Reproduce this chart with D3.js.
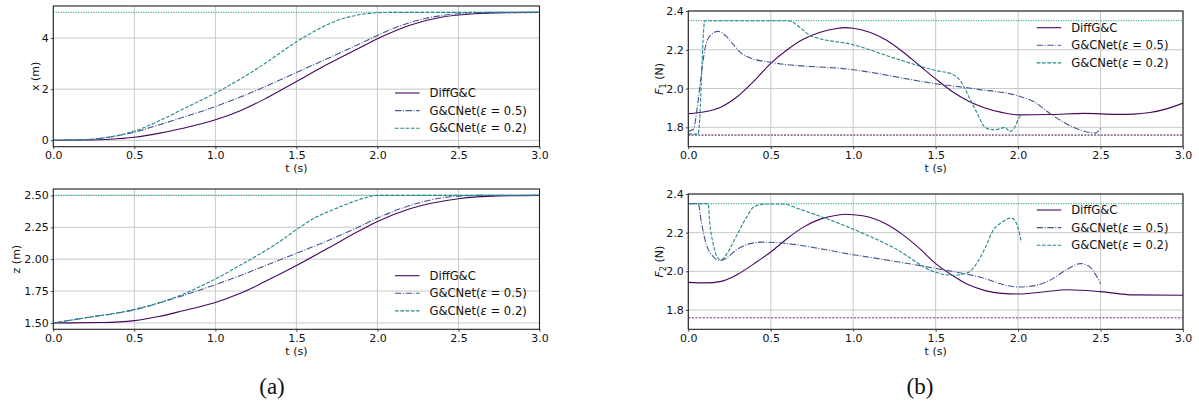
<!DOCTYPE html>
<html>
<head>
<meta charset="utf-8">
<script src="https://cdn.jsdelivr.net/npm/d3@7"></script>
<style>
  body { margin: 0; background: #fff; }
  svg text { font-family: "DejaVu Sans", sans-serif; fill: #111; }
</style>
</head>
<body>
<div id="chart"></div>
<script>
// time axis
const tTicks = [0, 0.5, 1.0, 1.5, 2.0, 2.5, 3.0];

// (a) top: x position
const xTicks = [0, 2, 4];
const xTarget = 5;
const tXDiff = [0, 0.2, 0.35, 0.5, 0.65, 0.8, 1.0, 1.15, 1.3, 1.5, 1.7, 1.9, 2.0, 2.2, 2.4, 2.6, 2.8, 3.0];
const xDiff = [0, 0.01, 0.04, 0.12, 0.27, 0.47, 0.8, 1.15, 1.6, 2.3, 3.0, 3.65, 3.97, 4.5, 4.82, 4.95, 4.99, 5.0];
const tXNet5 = [0, 0.2, 0.35, 0.5, 0.65, 0.8, 1.0, 1.15, 1.3, 1.5, 1.7, 1.9, 2.0, 2.1, 2.2, 2.3, 2.4, 2.5, 2.6, 2.7, 3.0];
const xNet5 = [0, 0.03, 0.13, 0.32, 0.6, 0.9, 1.32, 1.68, 2.08, 2.65, 3.22, 3.8, 4.1, 4.38, 4.6, 4.77, 4.88, 4.95, 4.99, 5.0, 5.0];
const tXNet2 = [0, 0.2, 0.35, 0.5, 0.65, 0.8, 1.0, 1.15, 1.3, 1.4, 1.5, 1.6, 1.7, 1.8, 1.9, 2.0, 2.1, 3.0];
const xNet2 = [0, 0.03, 0.13, 0.36, 0.75, 1.22, 1.85, 2.38, 2.98, 3.42, 3.85, 4.22, 4.55, 4.78, 4.92, 4.99, 5.0, 5.0];

// (a) bottom: z position
const zTicks = [1.5, 1.75, 2.0, 2.25, 2.5];
const zTarget = 2.5;
const tZDiff = [0, 0.3, 0.5, 0.65, 0.8, 1.0, 1.15, 1.3, 1.5, 1.7, 1.9, 2.0, 2.2, 2.5, 2.75, 3.0];
const zDiff = [1.5, 1.503, 1.518, 1.55, 1.595, 1.66, 1.73, 1.82, 1.95, 2.09, 2.23, 2.295, 2.395, 2.474, 2.496, 2.5];
const tZNet5 = [0, 0.2, 0.5, 0.75, 1.0, 1.15, 1.3, 1.5, 1.7, 1.9, 2.0, 2.2, 2.35, 2.5, 2.65, 3.0];
const zNet5 = [1.5, 1.54, 1.603, 1.694, 1.8, 1.87, 1.945, 2.046, 2.148, 2.262, 2.322, 2.42, 2.47, 2.494, 2.5, 2.5];
const tZNet2 = [0, 0.2, 0.5, 0.75, 1.0, 1.15, 1.3, 1.4, 1.5, 1.6, 1.75, 1.85, 1.94, 2.0, 3.0];
const zNet2 = [1.5, 1.54, 1.606, 1.7, 1.845, 1.95, 2.06, 2.14, 2.232, 2.315, 2.4, 2.45, 2.487, 2.5, 2.5];

// (b) thrusts
const fTicks = [1.8, 2.0, 2.2, 2.4];
const fMax = 2.35;
const fMin = 1.76;
const tF1Diff = [0, 0.1, 0.2, 0.3, 0.4, 0.5, 0.6, 0.7, 0.8, 0.9, 0.95, 1.0, 1.1, 1.2, 1.3, 1.4, 1.5, 1.6, 1.7, 1.8, 1.9, 2.0, 2.2, 2.4, 2.6, 2.7, 2.8, 2.9, 3.0];
const f1Diff = [1.87, 1.88, 1.905, 1.96, 2.04, 2.13, 2.2, 2.255, 2.29, 2.31, 2.314, 2.311, 2.29, 2.25, 2.19, 2.12, 2.05, 1.985, 1.935, 1.9, 1.877, 1.864, 1.866, 1.872, 1.867, 1.868, 1.876, 1.895, 1.925];
const tF1Net5 = [0, 0.03, 0.06, 0.08, 0.1, 0.13, 0.18, 0.23, 0.27, 0.31, 0.37, 0.5, 1.0, 1.5, 1.75, 2.0, 2.1, 2.2, 2.3, 2.4, 2.47, 2.5];
const f1Net5 = [1.78, 1.79, 1.94, 2.08, 2.2, 2.27, 2.295, 2.27, 2.23, 2.19, 2.16, 2.135, 2.097, 2.025, 1.997, 1.962, 1.93, 1.867, 1.815, 1.78, 1.77, 1.795];
const tF1Net2 = [0, 0.06, 0.1, 0.6, 0.75, 1.0, 1.25, 1.5, 1.6, 1.65, 1.7, 1.75, 1.8, 1.85, 1.9, 1.92, 1.95, 1.98, 2.0, 2.02];
const f1Net2 = [1.765, 1.765, 2.35, 2.35, 2.27, 2.226, 2.157, 2.093, 2.074, 2.04, 1.96, 1.876, 1.8, 1.787, 1.795, 1.8, 1.778, 1.8, 1.84, 1.867];

const tF2Diff = [0, 0.1, 0.2, 0.3, 0.4, 0.5, 0.6, 0.7, 0.8, 0.9, 0.95, 1.0, 1.1, 1.2, 1.3, 1.4, 1.5, 1.6, 1.7, 1.8, 1.9, 2.0, 2.15, 2.3, 2.5, 2.7, 3.0];
const f2Diff = [1.943, 1.94, 1.948, 1.985, 2.04, 2.1, 2.17, 2.23, 2.27, 2.29, 2.295, 2.293, 2.28, 2.245, 2.19, 2.12, 2.04, 1.98, 1.93, 1.9, 1.886, 1.883, 1.893, 1.905, 1.895, 1.878, 1.876];
const tF2Net5 = [0, 0.06, 0.08, 0.11, 0.15, 0.19, 0.23, 0.29, 0.37, 0.45, 0.52, 1.0, 1.5, 1.75, 2.0, 2.1, 2.2, 2.3, 2.38, 2.43, 2.47, 2.5];
const f2Net5 = [2.35, 2.35, 2.25, 2.137, 2.077, 2.056, 2.068, 2.11, 2.142, 2.151, 2.149, 2.086, 2.015, 1.974, 1.919, 1.926, 1.957, 2.012, 2.04, 2.026, 1.983, 1.936];
const tF2Net2 = [0, 0.12, 0.13, 0.15, 0.18, 0.2, 0.23, 0.29, 0.35, 0.4, 0.47, 0.58, 0.66, 1.0, 1.25, 1.5, 1.6, 1.7, 1.75, 1.8, 1.85, 1.9, 1.95, 1.97, 2.0, 2.02];
const f2Net2 = [2.35, 2.35, 2.249, 2.146, 2.068, 2.06, 2.086, 2.18, 2.275, 2.335, 2.348, 2.348, 2.326, 2.218, 2.12, 1.995, 1.979, 1.995, 2.043, 2.12, 2.214, 2.252, 2.275, 2.272, 2.223, 2.15];

const seriesNames = ["DiffG&C", "G&CNet(ε = 0.5)", "G&CNet(ε = 0.2)"];

const styles = [
  { color: "#46085c", dash: null },
  { color: "#44558f", dash: "6.4,1.6,1,1.6" },
  { color: "#23888e", dash: "3.7,1.6" }
];
const targetColor = "#27a883";

const zip = (ts, vs) => ts.map((t, i) => [t, vs[i]]);

const panels = [
  { x0: 53.3, x1: 539.5, y0: 6, y1: 146.7, dom: [-0.25, 5.25], ticks: xTicks, fmt: d3.format(".0f"),
    label: "x", labelX: 39, series: [zip(tXDiff, xDiff), zip(tXNet5, xNet5), zip(tXNet2, xNet2)],
    hlines: [{ v: xTarget, color: targetColor, dash: "1,1.5", w: 1.2 }], legend: { x: 395, y: 93 } },
  { x0: 53.3, x1: 539.5, y0: 189, y1: 329.3, dom: [1.45, 2.55], ticks: zTicks, fmt: d3.format(".2f"),
    label: "z", labelX: 20, series: [zip(tZDiff, zDiff), zip(tZNet5, zNet5), zip(tZNet2, zNet2)],
    hlines: [{ v: zTarget, color: targetColor, dash: "1,1.5", w: 1.2 }], legend: { x: 395, y: 275.7 } },
  { x0: 688.3, x1: 1183, y0: 11, y1: 146.7, dom: [1.7, 2.4], ticks: fTicks, fmt: d3.format(".1f"),
    label: "F1", labelX: 663, series: [zip(tF1Diff, f1Diff), zip(tF1Net5, f1Net5), zip(tF1Net2, f1Net2)],
    hlines: [{ v: fMax, color: targetColor, dash: "1,1.5", w: 1.2 }, { v: fMin, color: "#3a0a50", dash: "2,1.3", w: 1 }],
    legend: { x: 1036.7, y: 27.7 } },
  { x0: 688.3, x1: 1183, y0: 194, y1: 329.3, dom: [1.7, 2.4], ticks: fTicks, fmt: d3.format(".1f"),
    label: "F2", labelX: 663, series: [zip(tF2Diff, f2Diff), zip(tF2Net5, f2Net5), zip(tF2Net2, f2Net2)],
    hlines: [{ v: fMax, color: targetColor, dash: "1,1.5", w: 1.2 }, { v: fMin, color: "#9a72b0", dash: "2.2,1.4", w: 1.6 }],
    legend: { x: 1036.7, y: 210 } }
];

const svg = d3.select("#chart").append("svg")
  .attr("width", 1199)
  .attr("height", 408);

panels.forEach((p, pi) => {
  const xScale = d3.scaleLinear().domain([0, 3]).range([p.x0, p.x1]);
  const yScale = d3.scaleLinear().domain(p.dom).range([p.y1, p.y0]);

  svg.append("clipPath").attr("id", "clip" + pi)
    .append("rect")
    .attr("x", p.x0).attr("y", p.y0)
    .attr("width", p.x1 - p.x0).attr("height", p.y1 - p.y0);

  // grid
  const grid = svg.append("g");
  grid.selectAll("line.gx").data(tTicks).enter().append("line")
    .attr("x1", d => xScale(d)).attr("x2", d => xScale(d))
    .attr("y1", p.y0).attr("y2", p.y1)
    .attr("stroke", "#c8c8c8").attr("stroke-width", 1);
  grid.selectAll("line.gy").data(p.ticks).enter().append("line")
    .attr("y1", d => yScale(d)).attr("y2", d => yScale(d))
    .attr("x1", p.x0).attr("x2", p.x1)
    .attr("stroke", "#c8c8c8").attr("stroke-width", 1);

  const plot = svg.append("g").attr("clip-path", "url(#clip" + pi + ")");

  p.hlines.forEach(h => {
    plot.append("line")
      .attr("x1", p.x0).attr("x2", p.x1)
      .attr("y1", yScale(h.v)).attr("y2", yScale(h.v))
      .attr("stroke", h.color).attr("stroke-width", h.w)
      .attr("stroke-dasharray", h.dash);
  });

  const line = d3.line()
    .x(d => xScale(d[0]))
    .y(d => yScale(d[1]))
    .curve(d3.curveMonotoneX);

  p.series.forEach((s, i) => {
    plot.append("path")
      .datum(s)
      .attr("d", line)
      .attr("fill", "none")
      .attr("stroke", styles[i].color)
      .attr("stroke-width", 1.1)
      .attr("stroke-dasharray", styles[i].dash);
  });

  // axes
  const xAxis = d3.axisBottom(xScale).tickValues(tTicks).tickFormat(d3.format(".1f"))
    .tickSize(2.5).tickPadding(2);
  const gx = svg.append("g").attr("transform", `translate(0,${p.y1})`).call(xAxis);
  const yAxis = d3.axisLeft(yScale).tickValues(p.ticks).tickFormat(p.fmt)
    .tickSize(2.5).tickPadding(2);
  const gy = svg.append("g").attr("transform", `translate(${p.x0},0)`).call(yAxis);
  [gx, gy].forEach(g => {
    g.select(".domain").remove();
    g.selectAll(".tick line").attr("stroke", "#222").attr("stroke-width", 0.8);
    g.selectAll("text").attr("font-size", 11).style("font-family", "DejaVu Sans").attr("fill", "#111");
  });

  // frame
  svg.append("rect")
    .attr("x", p.x0).attr("y", p.y0)
    .attr("width", p.x1 - p.x0).attr("height", p.y1 - p.y0)
    .attr("fill", "none").attr("stroke", "#222").attr("stroke-width", 1.1);

  // axis labels
  svg.append("text")
    .attr("x", (p.x0 + p.x1) / 2)
    .attr("y", p.y1 + 25.5)
    .attr("text-anchor", "middle")
    .attr("font-size", 11)
    .text("t (s)");

  const cy = (p.y0 + p.y1) / 2;
  const yl = svg.append("text")
    .attr("transform", `translate(${p.labelX},${cy}) rotate(-90)`)
    .attr("text-anchor", "middle")
    .attr("font-size", 11);
  if (p.label[0] === "F") {
    yl.append("tspan").attr("font-style", "italic").text("F");
    yl.append("tspan").attr("font-size", 8).attr("dy", 2.5).text(p.label[1]);
    yl.append("tspan").attr("dy", -2.5).text(" (N)");
  } else {
    yl.text(p.label + " (m)");
  }

  // legend
  const lg = svg.append("g");
  seriesNames.forEach((name, i) => {
    const yy = p.legend.y + i * 17.6;
    lg.append("line")
      .attr("x1", p.legend.x).attr("x2", p.legend.x + 24.5)
      .attr("y1", yy).attr("y2", yy)
      .attr("stroke", styles[i].color).attr("stroke-width", 1.1)
      .attr("stroke-dasharray", styles[i].dash);
    const tx = lg.append("text")
      .attr("x", p.legend.x + 34.5)
      .attr("y", yy + 4)
      .attr("font-size", 11.6);
    if (i === 0) {
      tx.text(name);
    } else {
      const parts = name.split("ε");
      tx.append("tspan").text(parts[0]);
      tx.append("tspan").attr("font-style", "italic").text("ε");
      tx.append("tspan").text(parts[1]);
    }
  });
});

// sub-figure captions
const captions = [{ text: "(a)", x: 272 }, { text: "(b)", x: 920 }];
svg.selectAll("text.cap").data(captions).enter().append("text")
  .attr("x", d => d.x)
  .attr("y", 394)
  .attr("text-anchor", "middle")
  .attr("font-size", 23)
  .style("font-family", "Liberation Serif, serif")
  .text(d => d.text);
</script>
</body>
</html>
